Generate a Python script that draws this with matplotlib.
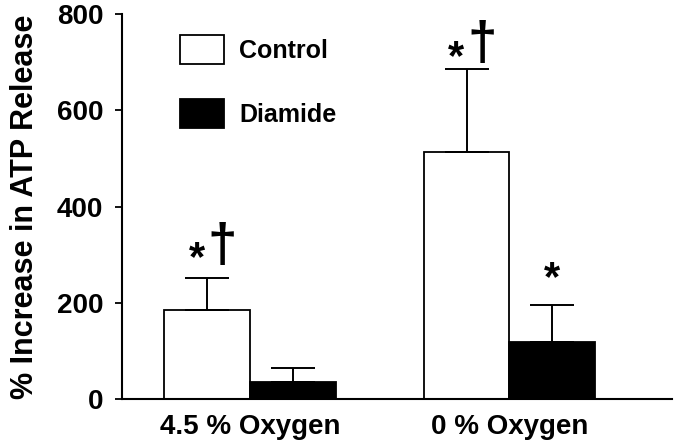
import matplotlib
matplotlib.use("Agg")
import matplotlib.pyplot as plt
import numpy as np

plt.rcParams['font.family'] = ['Liberation Sans', 'DejaVu Sans']
plt.rcParams['font.weight'] = 'bold'

groups = ['4.5 % Oxygen', '0 % Oxygen']
series = ['Control', 'Diamide']
control_vals = [185, 513]
control_err = [66, 174]
diamide_vals = [36, 119]
diamide_err = [29, 76]

# significance marks: group, series, star lift, dagger lift (above error cap)
marks = [(0, 0, 40, 66), (1, 0, 22, 49), (1, 1, 54, None)]

fig = plt.figure(figsize=(6.76, 4.47), dpi=100)
ax = fig.add_axes([0.1805, 0.1074, 0.8135, 0.8606])

x = np.arange(len(groups))
w = 0.331
err_kw = dict(ecolor='black', elinewidth=1.4, capsize=15.5, capthick=1.4)

ax.bar(x - w / 2, control_vals, w, color='white', edgecolor='black', linewidth=1.3,
       yerr=[np.zeros(2), control_err], error_kw=err_kw, label=series[0], zorder=2)
ax.bar(x + w / 2, diamide_vals, w, color='black', edgecolor='black', linewidth=1.3,
       yerr=[np.zeros(2), diamide_err], error_kw=err_kw, label=series[1], zorder=2)

tops = [np.array(control_vals) + np.array(control_err),
        np.array(diamide_vals) + np.array(diamide_err)]
for g, s, star_up, dag_up in marks:
    cx = x[g] + (w / 2 if s == 1 else -w / 2)
    top = tops[s][g]
    if dag_up is not None:
        ax.text(cx - 0.04, top + star_up, '*', ha='center', va='center', fontsize=30)
        ax.text(cx + 0.06, top + dag_up, '\u2020', ha='center', va='center', fontsize=38)
    else:
        ax.text(cx, top + star_up, '*', ha='center', va='center', fontsize=30)

ax.set_xlim(-0.493, 1.626)
ax.set_ylim(0, 800)
ax.set_yticks([0, 200, 400, 600, 800])
ax.set_xticks(x)
ax.set_xticklabels(groups, fontsize=20, fontweight='bold')
ax.tick_params(axis='x', length=0, pad=11)
ax.tick_params(axis='y', direction='out', length=5, width=1.3, labelsize=20, pad=8.5)
for lab in ax.get_yticklabels():
    lab.set_fontweight('bold')
ax.spines['top'].set_visible(False)
ax.spines['right'].set_visible(False)
ax.spines['left'].set_linewidth(1.5)
ax.spines['bottom'].set_linewidth(1.5)
ax.set_ylabel('% Increase in ATP Release', fontsize=22, fontweight='bold', labelpad=12)

ax.legend(loc='upper left', bbox_to_anchor=(0.1055, 0.946), frameon=False, fontsize=18,
          handlelength=1.76, handleheight=1.4, labelspacing=1.4, handletextpad=0.6,
          borderpad=0, borderaxespad=0)

fig.savefig('out.png', dpi=100)
